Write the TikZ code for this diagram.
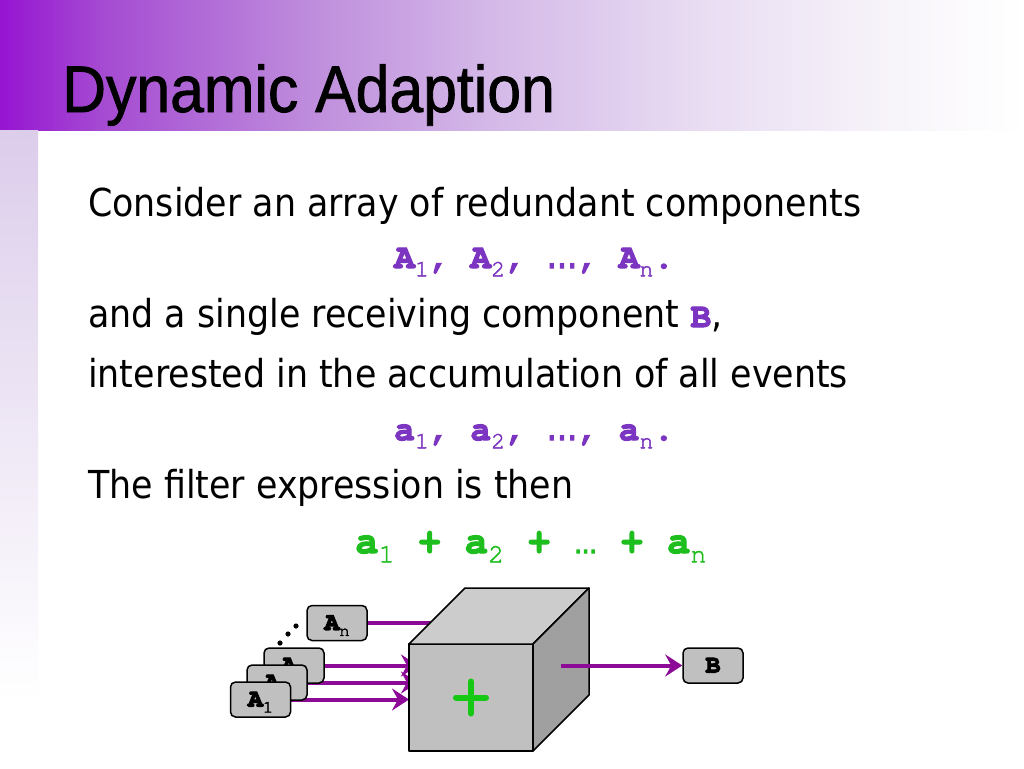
\documentclass[tikz,border=0pt]{standalone}
\usepackage[T1]{fontenc}
\usepackage{fontspec}
\setmainfont{DejaVu Sans}[FakeStretch=0.905]
\newfontfamily\titlefont{Liberation Sans}[FakeStretch=0.92,FakeBold=1.2]
\usetikzlibrary{arrows.meta,backgrounds}

\definecolor{bandA}{RGB}{150,20,210}
\definecolor{bandB}{RGB}{165,75,210}
\definecolor{bandC}{RGB}{190,140,220}
\definecolor{bandD}{RGB}{212,185,232}
\definecolor{bandE}{RGB}{232,220,242}
\definecolor{bandF}{RGB}{248,245,250}
\definecolor{stripA}{RGB}{220,205,235}
\definecolor{stripB}{RGB}{240,232,246}
\definecolor{textpurple}{RGB}{123,53,192}
\definecolor{flowpurple}{RGB}{140,10,150}
\definecolor{codegreen}{RGB}{30,190,30}
\definecolor{plusgreen}{RGB}{20,200,20}
\definecolor{boxgray}{RGB}{192,192,192}
\definecolor{topgray}{RGB}{204,204,204}
\definecolor{sidegray}{RGB}{160,160,160}

\pgfdeclarehorizontalshading{titleband}{100bp}{color(0bp)=(bandA); color(25bp)=(bandA);
  color(30bp)=(bandB); color(40bp)=(bandC); color(49bp)=(bandD); color(59bp)=(bandE);
  color(69bp)=(bandF); color(75bp)=(white); color(100bp)=(white)}

\newcommand{\cour}{\fontencoding{T1}\fontfamily{pcr}\selectfont}
\newcommand{\trmode}[1]{\special{pdf:literal direct #1 Tr}}
\newcommand{\hv}[1]{\special{pdf:literal direct 2 Tr 1.1 w}#1\trmode{0}}
\newcommand{\sbs}[1]{\special{pdf:literal direct 0.7 w}\raisebox{-0.24em}{\scalebox{0.68}{\mdseries #1}}\special{pdf:literal direct 1.1 w}}
\newcommand{\ellip}[1]{{\normalfont\fontsize{#1}{#1}\selectfont …}}

\begin{document}
\begin{tikzpicture}[x=1pt,y=-1pt,
  txt/.style={anchor=base west, inner sep=0pt, font=\fontsize{38.5}{46}\selectfont},
  code/.style={anchor=base west, inner sep=0pt, font=\fontsize{34.5}{40}\selectfont\cour\bfseries},
  comp/.style={draw=black, line width=1.5pt, fill=boxgray, rounded corners=5pt,
    minimum width=60pt, minimum height=35pt, inner sep=0pt, text depth=0pt,
    font=\fontsize{25}{25}\selectfont\cour\bfseries},
  flow/.style={draw=flowpurple, line width=4pt, -{Stealth[length=17pt,width=22pt,inset=6pt]}},
  face/.style={draw=black, line width=1.5pt, line join=round}]

  \useasboundingbox (0,0) rectangle (1024,768);

  % title band and side strip
  \begin{scope}[on background layer]
    \fill[white] (0,0) rectangle (1024,768);
    \shade[shading=titleband] (0,0) rectangle (1024,130);
    \shade[top color=stripA, middle color=stripB, bottom color=white] (0,130) rectangle (38,700);
  \end{scope}
  \node[anchor=base west, inner sep=0pt, font=\titlefont\fontsize{66}{66}\selectfont] (title) at (62,112) {Dynamic Adaption};

  % text
  \node[txt] (l1) at (88,216) {Consider an array of redundant components};
  \node[code, textpurple] (l2) at (394,268) {\hv{A\sbs{1}, A\sbs{2}, \ellip{34}, A\sbs{n}.}};
  \node[txt] (l3) at (88,327) {and a single receiving component {\color{textpurple}\fontsize{34.5}{40}\selectfont\cour\bfseries\hv{B}},};
  \node[txt] (l4) at (88,387) {interested in the accumulation of all events};
  \node[code, textpurple] (l5) at (394,440) {\hv{a\sbs{1}, a\sbs{2}, \ellip{34}, a\sbs{n}.}};
  \node[txt] (l6) at (88,498) {The filter expression is then};
  \node[code, codegreen, font=\fontsize{39}{44}\selectfont\cour\bfseries] (l7) at (355,553)
    {\hv{a\sbs{1} + a\sbs{2} + \ellip{25} + a\sbs{n}}};

  % components
  \node[comp] (an) at (337,623) {\hv{A\sbs{n}}};
  \node[comp] (a2) at (294,665.5) {\hv{A\sbs{2}}};
  \node[comp] (a3) at (277,682.5) {\hv{A\sbs{3}}};
  \node[comp] (a1) at (260.5,699.5) {\hv{A\sbs{1}}};
  \node[comp] (b) at (713,665.5) {\hv{B}};

  \foreach \x/\y in {280/643, 288/634, 296/626}
    \fill (\x,\y) circle (2.6pt);

  % the cube
  \node[face, fill=boxgray, outer sep=0pt, minimum width=124pt, minimum height=107pt] (adder) at (471,697.5) {};
  \draw[face, fill=topgray] (adder.north west) -- ++(56,-56) -- ++(124,0) -- (adder.north east) -- cycle;
  \draw[face, fill=sidegray] (adder.north east) -- ++(56,-56) -- ++(0,107) -- (adder.south east) -- cycle;
  \draw[plusgreen, line width=6pt, line cap=round] ([xshift=-15pt]adder.center) -- ([xshift=15pt]adder.center)
    ([yshift=-16pt]adder.center) -- ([yshift=16pt]adder.center);

  \begin{scope}[on background layer]
    \draw[flow] (an.east) -- (an.east -| adder.center);
    \draw[flow] (a2.east) -- ([xshift=9pt]a2.east -| adder.west);
    \draw[flow] (a3.east) -- ([xshift=9pt]a3.east -| adder.west);
    \draw[flow] (a1.east) -- (a1.east -| adder.west);
  \end{scope}

  \coordinate (rc) at ([shift={(28pt,28pt)}]adder.east);
  \draw[flow] (rc |- b.west) -- (b.west);

\end{tikzpicture}
\end{document}
